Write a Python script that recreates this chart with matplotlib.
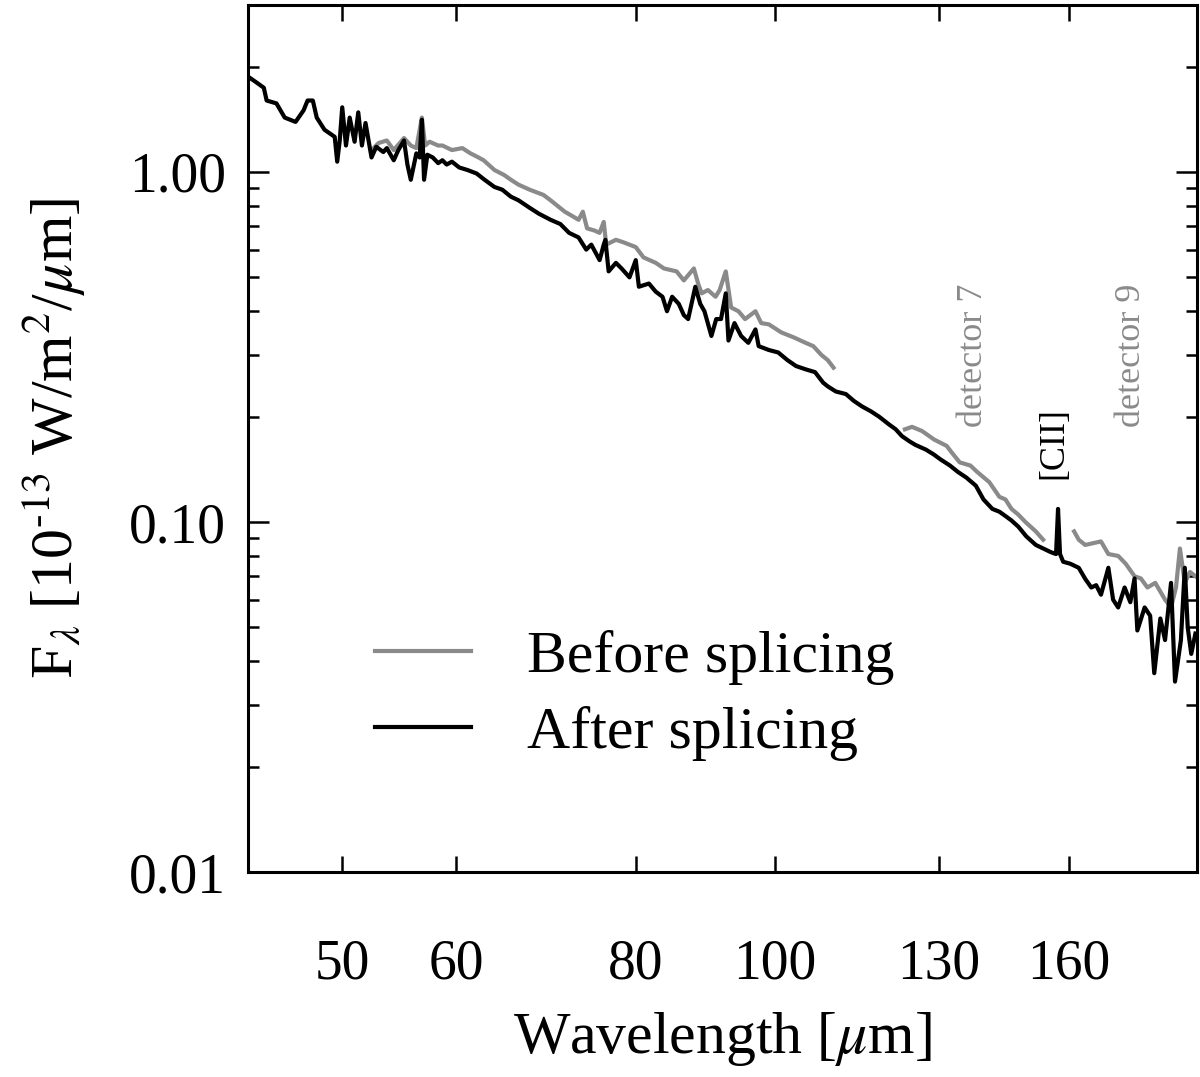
import matplotlib
matplotlib.use("Agg")
import matplotlib.pyplot as plt
from matplotlib.ticker import FixedLocator, NullLocator, LogLocator, FixedFormatter

plt.rcParams['font.family'] = ['Liberation Serif', 'DejaVu Serif']
plt.rcParams['mathtext.fontset'] = 'stix'

# after splicing (black)
after_wl = [43.1, 43.6, 44.1, 44.3, 45.0, 45.6, 46.4, 47.0, 47.3, 47.7,
            48.0, 48.6, 49.4, 49.6, 49.8, 50.0, 50.3, 50.6, 51.0, 51.3,
            51.6, 51.9, 52.4, 52.8, 53.4, 53.7, 54.3, 54.7, 55.2, 55.5,
            55.8, 56.3, 56.6, 56.8, 57.0, 57.3, 57.8, 58.3, 58.7, 59.1,
            59.6, 60.3, 61.1, 62.0, 62.8, 63.8, 64.6, 65.5, 66.3, 67.5,
            68.5, 69.8, 70.9, 71.9, 73.0, 73.9, 74.5, 75.5, 76.0, 76.2,
            76.6, 77.5, 78.2, 79.2, 80.0, 80.4, 81.7, 82.6, 83.5, 84.1,
            84.8, 85.7, 86.4, 87.0, 88.0, 88.7, 89.3, 90.3, 91.0, 91.7,
            92.4, 92.8, 93.7, 94.7, 95.8, 96.9, 97.4, 99.0, 100.5, 102.0,
            103.4, 105.0, 106.6, 108.0, 108.8, 110.2, 112.0, 113.4, 114.9, 116.6,
            118.1, 120.0, 121.3, 122.5, 124.0, 125.2, 127.3, 128.9, 130.3, 132.3,
            134.0, 135.8, 137.9, 139.6, 141.6, 143.2, 144.6, 146.0, 147.6, 149.5,
            151.8, 153.6, 155.5, 156.8, 157.3, 157.8, 158.6, 160.4, 162.6, 164.3,
            165.9, 167.2, 168.5, 170.5, 171.8, 173.2, 175.0, 176.6, 177.8, 178.6,
            180.7, 182.3, 183.5, 185.3, 186.7, 188.5, 189.7, 191.5, 192.7, 193.6,
            194.7, 196.0]
after_flux = [1.86, 1.80, 1.74, 1.60, 1.57, 1.43, 1.39, 1.50, 1.60, 1.60,
              1.43, 1.32, 1.26, 1.07, 1.23, 1.53, 1.19, 1.43, 1.22, 1.48,
              1.19, 1.38, 1.10, 1.18, 1.14, 1.17, 1.08, 1.155, 1.23, 1.05,
              0.95, 1.13, 1.10, 1.41, 0.95, 1.12, 1.10, 1.06, 1.08, 1.05,
              1.07, 1.03, 1.013, 0.99, 0.95, 0.906, 0.89, 0.85, 0.83, 0.79,
              0.76, 0.73, 0.71, 0.67, 0.65, 0.60, 0.62, 0.56, 0.62, 0.64,
              0.52, 0.55, 0.53, 0.50, 0.56, 0.47, 0.48, 0.455, 0.44, 0.40,
              0.44, 0.42, 0.39, 0.38, 0.47, 0.42, 0.40, 0.34, 0.38, 0.38,
              0.45, 0.33, 0.37, 0.34, 0.325, 0.355, 0.318, 0.31, 0.305, 0.29,
              0.279, 0.273, 0.268, 0.25, 0.244, 0.236, 0.232, 0.222, 0.214, 0.207,
              0.20, 0.19, 0.184, 0.176, 0.170, 0.166, 0.161, 0.156, 0.151, 0.145,
              0.139, 0.134, 0.127, 0.116, 0.109, 0.107, 0.104, 0.101, 0.097, 0.091,
              0.086, 0.084, 0.082, 0.081, 0.109, 0.081, 0.077, 0.076, 0.074, 0.0688,
              0.065, 0.066, 0.062, 0.074, 0.060, 0.057, 0.065, 0.059, 0.069, 0.049,
              0.057, 0.054, 0.037, 0.053, 0.046, 0.067, 0.035, 0.046, 0.074, 0.050,
              0.042, 0.048]

# before splicing (grey), three detector pieces
before_wl_a = [52.4, 53.0, 53.7, 54.3, 55.2, 55.8, 56.3, 56.8, 57.1, 57.5,
               58.3, 58.7, 59.6, 60.6, 61.4, 62.2, 62.7, 63.8, 64.8, 65.5,
               66.3, 67.5, 69.0, 69.8, 71.4, 72.2, 73.0, 73.5, 74.0, 74.9,
               75.5, 76.0, 76.3, 77.5, 78.4, 79.2, 80.0, 81.0, 82.6, 83.7,
               85.4, 86.4, 87.8, 88.4, 88.9, 89.8, 90.9, 91.5, 92.4, 93.2,
               94.3, 95.3, 96.9, 97.8, 99.0, 101.0, 103.0, 105.0, 106.3, 107.7,
               108.8, 109.8]
before_flux_a = [1.155, 1.21, 1.23, 1.155, 1.25, 1.19, 1.17, 1.43, 1.19, 1.22,
                 1.19, 1.19, 1.155, 1.17, 1.13, 1.10, 1.08, 1.013, 0.98, 0.95,
                 0.92, 0.89, 0.86, 0.83, 0.77, 0.75, 0.73, 0.77, 0.69, 0.68,
                 0.67, 0.72, 0.62, 0.64, 0.63, 0.62, 0.61, 0.57, 0.55, 0.53,
                 0.52, 0.49, 0.53, 0.48, 0.45, 0.46, 0.44, 0.46, 0.52, 0.41,
                 0.40, 0.38, 0.40, 0.37, 0.367, 0.348, 0.337, 0.325, 0.318, 0.30,
                 0.29, 0.276]
before_wl_b = [123.1, 124.5, 126.5, 129.0, 131.6, 133.0, 134.4, 136.7, 138.2,
               140.9, 143.2, 144.6, 146.0, 147.6, 149.3, 151.8, 153.6]
before_flux_b = [0.184, 0.187, 0.182, 0.172, 0.165, 0.156, 0.148, 0.145, 0.139,
                 0.130, 0.118, 0.116, 0.109, 0.105, 0.100, 0.094, 0.089]
before_wl_c = [161.4, 162.6, 164.3, 166.4, 168.5, 170.5, 173.2, 175.3, 177.8,
               179.6, 181.5, 183.8, 186.7, 188.5, 190.0, 191.2, 192.7, 194.3, 196.0]
before_flux_c = [0.094, 0.089, 0.086, 0.087, 0.088, 0.081, 0.080, 0.076, 0.070,
                 0.069, 0.065, 0.067, 0.060, 0.057, 0.065, 0.084, 0.067, 0.072, 0.070]

xticks = [50, 60, 80, 100, 130, 160]
yticks = [0.01, 0.1, 1.0]
ytick_labels = ["0.01", "0.10", "1.00"]

grey = '#8a8a8a'

fig = plt.figure(figsize=(12, 10.77), dpi=100)
ax = fig.add_axes([0.2067, 0.1903, 0.7908, 0.8051])

ax.plot(before_wl_a, before_flux_a, color=grey, lw=3, label='Before splicing')
ax.plot(before_wl_b, before_flux_b, color=grey, lw=3)
ax.plot(before_wl_c, before_flux_c, color=grey, lw=3)
ax.plot(after_wl, after_flux, color='black', lw=3, label='After splicing')

ax.set_xscale('log')
ax.set_yscale('log')
ax.set_xlim(43, 196.5)
ax.set_ylim(0.01, 3.0)

ax.xaxis.set_major_locator(FixedLocator(xticks))
ax.xaxis.set_major_formatter(FixedFormatter([str(t) for t in xticks]))
ax.xaxis.set_minor_locator(NullLocator())
ax.yaxis.set_major_locator(FixedLocator(yticks))
ax.yaxis.set_major_formatter(FixedFormatter(ytick_labels))
ax.yaxis.set_minor_locator(LogLocator(base=10, subs=range(2, 10)))

ax.tick_params(axis='x', which='major', direction='in', top=True, length=11.5,
               width=1.8, pad=48, labelsize=40)
ax.tick_params(axis='y', which='major', direction='in', right=True, length=15,
               width=1.8, pad=16, labelsize=40)
ax.tick_params(axis='y', which='minor', direction='in', right=True, length=8,
               width=1.8)
for s in ax.spines.values():
    s.set_linewidth(2.2)

ax.set_xlabel(r'Wavelength [$\mu$m]', fontsize=43, labelpad=14)
ax.set_ylabel(r'F$_\lambda$ [10$^{\text{-13}}$ W/m$^2$/$\mu$m]', fontsize=43, labelpad=30)

ax.text(137.4, 0.30, 'detector 7', rotation=90, color=grey, fontsize=26,
        ha='center', va='center')
ax.text(176.8, 0.30, 'detector 9', rotation=90, color=grey, fontsize=26,
        ha='center', va='center')
ax.text(156.2, 0.168, '[CII]', rotation=90, color='black', fontsize=26,
        ha='center', va='center')

ax.legend(loc='center left', bbox_to_anchor=(0.134, 0.204), frameon=False,
          fontsize=43, handlelength=1.6, handletextpad=0.95, labelspacing=0.35,
          borderpad=0, borderaxespad=0)

fig.savefig('out.png', dpi=100)
